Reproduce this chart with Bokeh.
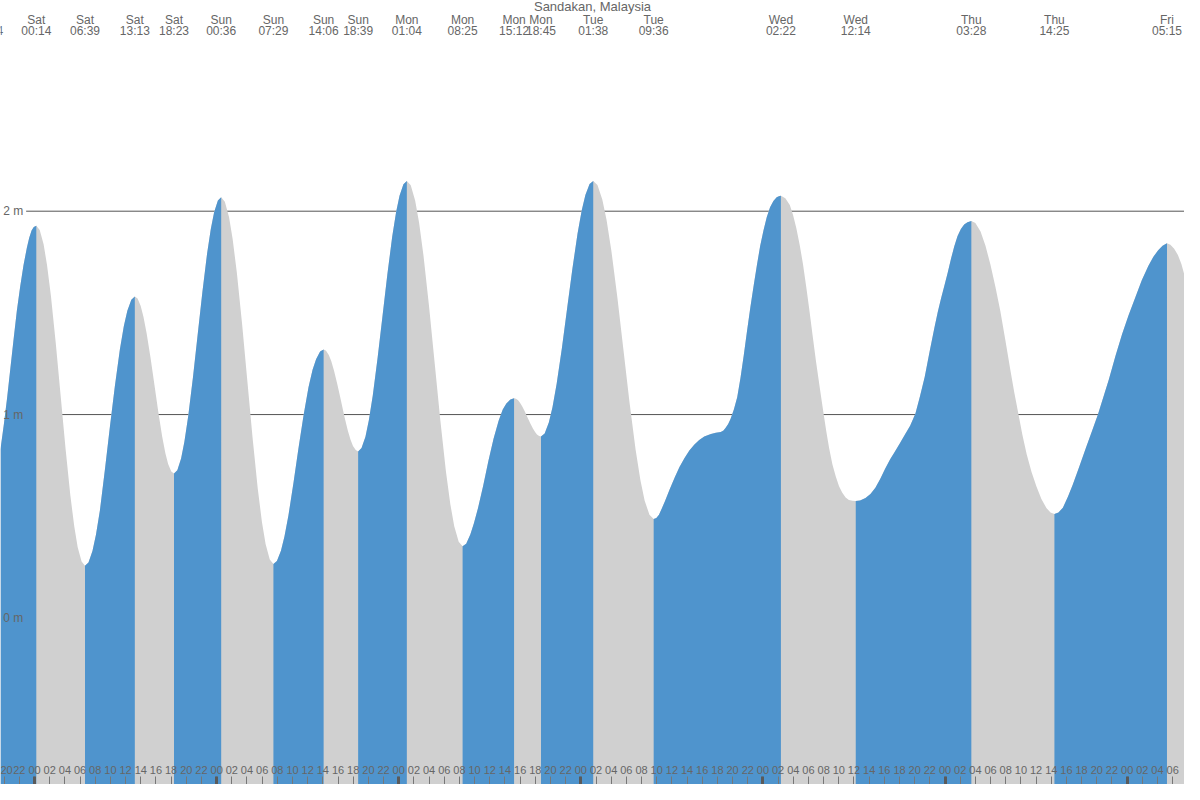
from bokeh.plotting import figure
from bokeh.models import Range1d, LinearAxis, FixedTicker, ColumnDataSource
from bokeh.core.properties import value
from bokeh.embed import file_html
from bokeh.resources import INLINE

# ---------------- data ----------------
title_text = "Sandakan, Malaysia"

# tide extremes (labels at the top)
tide_days = ["Fri", "Sat", "Sat", "Sat", "Sat", "Sun", "Sun", "Sun", "Sun",
             "Mon", "Mon", "Mon", "Mon", "Tue", "Tue", "Wed", "Wed", "Thu", "Thu", "Fri"]
tide_times = ["17:54", "00:14", "06:39", "13:13", "18:23", "00:36", "07:29", "14:06", "18:39",
              "01:04", "08:25", "15:12", "18:45", "01:38", "09:36", "02:22", "12:14", "03:28", "14:25", "05:15"]

# tide curve: hours since Saturday 00:00 -> height (m)
curve_hours = [
    -4.49, -4.05, -3.62, -3.19, -2.76, -2.33, -1.89, -1.45, -1.01, -0.7, -0.39, -0.1, 0.233,
    0.682, 1.196, 1.645, 2.158, 2.8, 3.442, 4.083, 4.725, 5.238, 5.687, 6.201, 6.65,
    7.11, 7.635, 8.095, 8.62, 9.277, 9.934, 10.59, 11.247, 11.772, 12.232, 12.757, 13.217,
    13.579, 13.992, 14.354, 14.767, 15.283, 15.8, 16.317, 16.833, 17.246, 17.608, 18.021, 18.383,
    18.818, 19.316, 19.751, 20.248, 20.87, 21.492, 22.113, 22.735, 23.232, 23.668, 24.165, 24.6,
    25.082, 25.632, 26.114, 26.665, 27.353, 28.042, 28.73, 29.418, 29.969, 30.451, 31.001, 31.483,
    31.946, 32.476, 32.939, 33.468, 34.13, 34.792, 35.453, 36.115, 36.644, 37.107, 37.637, 38.1,
    38.419, 38.783, 39.101, 39.465, 39.92, 40.375, 40.83, 41.285, 41.649, 41.968, 42.332, 42.65,
    43.099, 43.613, 44.062, 44.575, 45.217, 45.859, 46.5, 47.142, 47.655, 48.104, 48.618, 49.067,
    49.582, 50.169, 50.684, 51.272, 52.007, 52.742, 53.477, 54.212, 54.8, 55.315, 55.902, 56.417,
    56.892, 57.434, 57.909, 58.452, 59.13, 59.809, 60.487, 61.165, 61.708, 62.183, 62.725, 63.2,
    63.449, 63.733, 63.981, 64.265, 64.62, 64.975, 65.33, 65.685, 65.969, 66.218, 66.502, 66.75,
    67.232, 67.782, 68.264, 68.815, 69.503, 70.192, 70.88, 71.568, 72.119, 72.601, 73.151, 73.633,
    74.191, 74.828, 75.386, 76.023, 76.82, 77.617, 78.413, 79.21, 79.847, 80.405, 81.042, 81.6,
    81.95, 82.3, 82.7, 83.07, 83.7, 84.37, 85.0, 85.67, 86.3, 86.97, 87.6, 88.27, 89.14, 89.8,
    90.44, 90.8, 91.09, 91.42, 91.74, 92.17, 92.61, 93.04, 93.47, 93.9, 94.34, 94.78, 95.21,
    95.64, 96.07, 96.5, 96.94, 97.38, 97.81, 98.1, 98.367,
    98.95, 99.54, 99.98, 100.41, 100.84, 101.27, 101.7, 102.13, 102.56, 103.0, 103.5, 103.99,
    104.36, 104.72, 105.16, 105.6, 106.03, 106.46, 106.9, 107.33, 107.8, 108.233,
    108.8, 109.52, 110.17, 110.82, 111.47, 112.12, 112.77, 113.42, 114.07, 114.72, 115.4, 116.1,
    116.7, 117.32, 117.97, 118.62, 119.05, 119.48, 119.92, 120.35, 120.78, 121.22, 121.65,
    122.09, 122.52, 122.96, 123.467,
    124.0, 124.68, 125.33, 125.98, 126.63, 127.28, 127.93, 128.58, 129.12, 129.67, 130.2,
    130.76, 131.4, 132.06, 132.7, 133.36, 133.9, 134.417,
    134.95, 135.53, 136.18, 136.83, 137.7, 138.56, 139.36, 140.16, 140.88, 141.59, 142.46,
    143.33, 144.2, 145.06, 145.93, 146.79, 147.44, 148.09, 148.67, 149.25,
    149.7, 150.2, 150.69, 151.15, 151.6,
]
curve_height = [
    0.83, 0.95, 1.08, 1.225, 1.37, 1.51, 1.63, 1.735, 1.82, 1.87, 1.905, 1.922, 1.928,
    1.908, 1.837, 1.736, 1.584, 1.351, 1.093, 0.834, 0.601, 0.449, 0.348, 0.277, 0.257,
    0.273, 0.329, 0.409, 0.530, 0.73, 0.94, 1.14, 1.32, 1.435, 1.511, 1.565, 1.581,
    1.571, 1.534, 1.481, 1.401, 1.280, 1.146, 1.011, 0.890, 0.810, 0.757, 0.720, 0.710,
    0.726, 0.784, 0.866, 0.990, 1.180, 1.390, 1.599, 1.789, 1.913, 1.995, 2.053, 2.069,
    2.047, 1.971, 1.862, 1.697, 1.446, 1.167, 0.888, 0.637, 0.472, 0.363, 0.287, 0.265,
    0.280, 0.330, 0.400, 0.505, 0.665, 0.835, 0.995, 1.135, 1.220, 1.272, 1.310, 1.320,
    1.314, 1.293, 1.263, 1.217, 1.147, 1.070, 0.992, 0.922, 0.876, 0.846, 0.826, 0.819,
    0.835, 0.891, 0.972, 1.093, 1.279, 1.484, 1.689, 1.875, 1.996, 2.076, 2.133, 2.149,
    2.127, 2.051, 1.943, 1.779, 1.528, 1.251, 0.973, 0.723, 0.559, 0.451, 0.375, 0.353,
    0.365, 0.41, 0.465, 0.54, 0.65, 0.77, 0.88, 0.97, 1.025, 1.055, 1.074, 1.080,
    1.078, 1.070, 1.058, 1.041, 1.015, 0.986, 0.957, 0.931, 0.914, 0.902, 0.894, 0.892,
    0.907, 0.961, 1.036, 1.151, 1.326, 1.521, 1.715, 1.890, 2.005, 2.080, 2.134, 2.149,
    2.129, 2.058, 1.958, 1.806, 1.575, 1.318, 1.061, 0.830, 0.678, 0.578, 0.507, 0.487,
    0.492, 0.508, 0.54, 0.573, 0.632, 0.691, 0.742, 0.787, 0.823, 0.853, 0.875, 0.892, 0.905, 0.910,
    0.914, 0.922, 0.935, 0.954, 0.980, 1.025, 1.085, 1.18, 1.29, 1.41, 1.526, 1.635, 1.735,
    1.83, 1.905, 1.97, 2.02, 2.05, 2.068, 2.074, 2.076,
    2.064, 2.030, 1.98, 1.915, 1.835, 1.742, 1.63, 1.51, 1.385, 1.26, 1.13, 1.005,
    0.915, 0.835, 0.755, 0.695, 0.648, 0.615, 0.592, 0.58, 0.576, 0.575,
    0.578, 0.59, 0.61, 0.64, 0.685, 0.735, 0.78, 0.82, 0.86, 0.902, 0.945, 1.005,
    1.09, 1.185, 1.31, 1.43, 1.505, 1.572, 1.635, 1.697, 1.765, 1.828, 1.878,
    1.912, 1.934, 1.946, 1.952,
    1.942, 1.9, 1.83, 1.738, 1.63, 1.51, 1.37, 1.225, 1.11, 1.003, 0.9,
    0.805, 0.718, 0.645, 0.585, 0.54, 0.518, 0.511,
    0.518, 0.542, 0.595, 0.655, 0.745, 0.835, 0.918, 1.001, 1.087, 1.173, 1.288,
    1.395, 1.49, 1.574, 1.66, 1.73, 1.775, 1.808, 1.83, 1.842,
    1.835, 1.815, 1.785, 1.74, 1.68,
]

height_levels = [0, 1, 2]
height_labels = ["0 m", "1 m", "2 m"]

hour_ticks = list(range(-6, 154, 2))
midnight_ticks = list(range(0, 168, 24))

# ---------------- styling ----------------
BLUE = "#4f94cd"
GREY = "#d0d0d0"
TEXT = "#666666"
FONT = "Liberation Sans"

H0, H1 = -4.486, 151.56      # visible hours
Y0, Y1 = -0.819, 3.036       # visible metres

# hours of each extreme from its day / time label
day_index = []
d = -1
prev = None
for dn in tide_days:
    if dn != prev:
        d += 1
        prev = dn
    day_index.append(d - 1)
tide_hours = [di * 24 + int(t[:2]) + int(t[3:]) / 60 for di, t in zip(day_index, tide_times)]

p = figure(width=1184, height=784, x_range=Range1d(H0, H1), y_range=Range1d(Y0, Y1),
           x_axis_location=None, y_axis_location=None, toolbar_location=None,
           output_backend="svg", min_border=0, outline_line_color=None,
           background_fill_color="white", border_fill_color="white")
p.grid.visible = False
p.extra_x_ranges = {"px": Range1d(0, 1200)}
p.extra_y_ranges = {"px": Range1d(800, 0)}

# horizontal level lines (behind the fill)
p.segment(x0=26, x1=1200, y0=height_levels, y1=height_levels, x_range_name="px",
          line_color="#555555", line_width=1)

# whole curve grey, rising parts blue
p.varea(x=curve_hours, y1=Y0, y2=curve_height, fill_color=GREY)

bounds = [curve_hours[0]]
for th in tide_hours:
    if curve_hours[0] < th < curve_hours[-1]:
        bounds.append(th)
bounds.append(curve_hours[-1])
for a, b in zip(bounds[:-1], bounds[1:]):
    idx = [i for i, h in enumerate(curve_hours) if a - 1e-2 <= h <= b + 1e-2]
    xs = [curve_hours[i] for i in idx]
    ys = [curve_height[i] for i in idx]
    if ys[-1] > ys[0]:
        p.varea(x=xs, y1=Y0, y2=ys, fill_color=BLUE)

# top labels
src = ColumnDataSource(dict(h=tide_hours, day=tide_days, time=tide_times))
p.text(x="h", y=19.7, text="day", source=src, y_range_name="px",
       text_align="center", text_baseline="alphabetic",
       text_font=value(FONT), text_font_size="12px", text_color=TEXT)
p.text(x="h", y=31, text="time", source=src, y_range_name="px",
       text_align="center", text_baseline="alphabetic",
       text_font=value(FONT), text_font_size="12px", text_color=TEXT)
p.text(x=[600], y=[6.4], text=[title_text], x_range_name="px", y_range_name="px",
       text_align="center", text_baseline="alphabetic",
       text_font=value(FONT), text_font_size="13px", text_color=TEXT)

# height axis drawn inside the plot
yax = LinearAxis(ticker=FixedTicker(ticks=height_levels),
                 major_label_overrides={v: s for v, s in zip(height_levels, height_labels)},
                 fixed_location=(26 - 34.5) / 7.69,
                 axis_line_color=None, major_tick_line_color=None,
                 major_tick_in=0, major_tick_out=0, minor_tick_line_color=None,
                 major_label_standoff=3, major_label_text_color=TEXT,
                 major_label_text_font=FONT, major_label_text_font_size="12px")
p.add_layout(yax, "left")

# hour axis drawn inside the plot at the bottom
xax = LinearAxis(ticker=FixedTicker(ticks=hour_ticks),
                 major_label_overrides={h: "%02d" % (h % 24) for h in hour_ticks},
                 fixed_location=Y0,
                 axis_line_color=None, major_tick_line_color="#777777",
                 major_tick_in=0, major_tick_out=8, minor_tick_line_color=None,
                 major_label_standoff=3, major_label_text_color=TEXT,
                 major_label_text_font=FONT, major_label_text_font_size="11px")
p.add_layout(xax, "above")

dax = LinearAxis(ticker=FixedTicker(ticks=midnight_ticks),
                 major_label_overrides={h: "" for h in midnight_ticks},
                 fixed_location=Y0,
                 axis_line_color=None, major_tick_line_color="#5a5a5a",
                 major_tick_line_width=3,
                 major_tick_in=0, major_tick_out=8, minor_tick_line_color=None,
                 major_label_text_font_size="1px")
p.add_layout(dax, "above")

open("out.html", "w").write(file_html(p, INLINE))
